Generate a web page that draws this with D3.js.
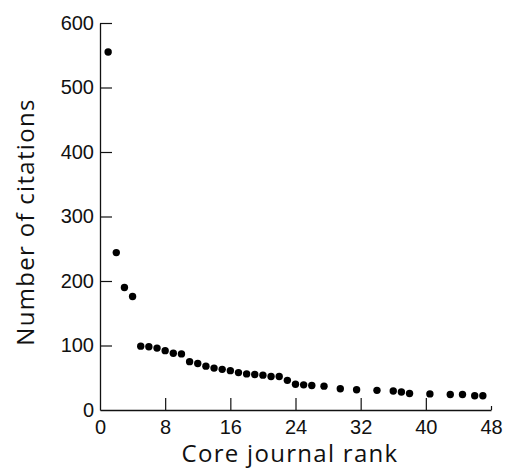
<!DOCTYPE html>
<html>
<head>
<meta charset="utf-8">
<script src="https://cdn.jsdelivr.net/npm/d3@7"></script>
<style>
  body { margin: 0; background: #fff; }
  svg { display: block; }
  .tick text { font-family: "Liberation Sans", Arial, sans-serif; font-size: 20px; fill: #111; }
  .axis-title { font-family: "Open Sans", "Noto Sans", sans-serif; font-size: 24px; letter-spacing: 1.3px; fill: #111; }
</style>
</head>
<body>
<svg id="chart" width="505" height="471"></svg>
<script>
// ranks and citation counts
var ranks = [1, 2, 3, 4, 5, 6, 7, 8, 9, 10, 11, 12, 13, 14, 15, 16, 17, 18, 19, 20,
             21, 22, 23, 24, 25, 26, 27.5, 29.5, 31.5, 34, 36, 37, 38, 40.5, 43, 44.5, 46, 47];
var citations = [555, 244, 190, 176, 99, 98, 96, 92, 88, 87, 75, 72, 68, 65, 63, 61, 58, 56, 55, 54,
                 52, 52, 46, 40, 39, 38, 37, 33, 31.5, 30.5, 29.5, 28, 25.5, 25, 24, 24, 22, 22];
var xTicks = [0, 8, 16, 24, 32, 40, 48];
var yTicks = [0, 100, 200, 300, 400, 500, 600];

var points = ranks.map(function (r, i) { return { rank: r, cites: citations[i] }; });

var svg = d3.select("#chart"),
    plotLeft = 100, plotRight = 491, plotTop = 23, plotBottom = 410;

var x = d3.scaleLinear().domain([0, 48]).range([plotLeft, plotRight]);
var y = d3.scaleLinear().domain([0, 600]).range([plotBottom, plotTop]);

// x axis, ticks pointing inward
var xAxis = svg.append("g")
    .attr("transform", "translate(0," + plotBottom + ")")
    .call(d3.axisBottom(x).tickValues(xTicks).tickSizeInner(-12).tickSizeOuter(0).tickPadding(5));
xAxis.selectAll(".tick text").attr("dy", "0.95em");
xAxis.selectAll(".tick line").filter(function (d) { return d === 0 || d === 48; }).attr("y2", function (d) { return d === 48 ? -4 : 0; });

var yAxis = svg.append("g")
    .attr("transform", "translate(" + plotLeft + ",0)")
    .call(d3.axisLeft(y).tickValues(yTicks).tickSizeInner(-12).tickSizeOuter(0).tickPadding(6));
yAxis.selectAll(".tick line").filter(function (d) { return d === 0; }).remove();

svg.selectAll(".domain").attr("stroke", "#111").attr("stroke-width", 1.3);
svg.selectAll(".tick line").attr("stroke", "#111").attr("stroke-width", 1.2);

svg.append("g").selectAll("circle")
    .data(points)
    .enter().append("circle")
    .attr("cx", function (d) { return x(d.rank); })
    .attr("cy", function (d) { return y(d.cites); })
    .attr("r", 3.7)
    .attr("fill", "#000");

svg.append("text")
    .attr("class", "axis-title")
    .attr("x", 290).attr("y", 462)
    .attr("text-anchor", "middle")
    .text("Core journal rank");

svg.append("text")
    .attr("class", "axis-title")
    .attr("transform", "translate(34,222) rotate(-90)")
    .attr("text-anchor", "middle")
    .text("Number of citations");
</script>
</body>
</html>
